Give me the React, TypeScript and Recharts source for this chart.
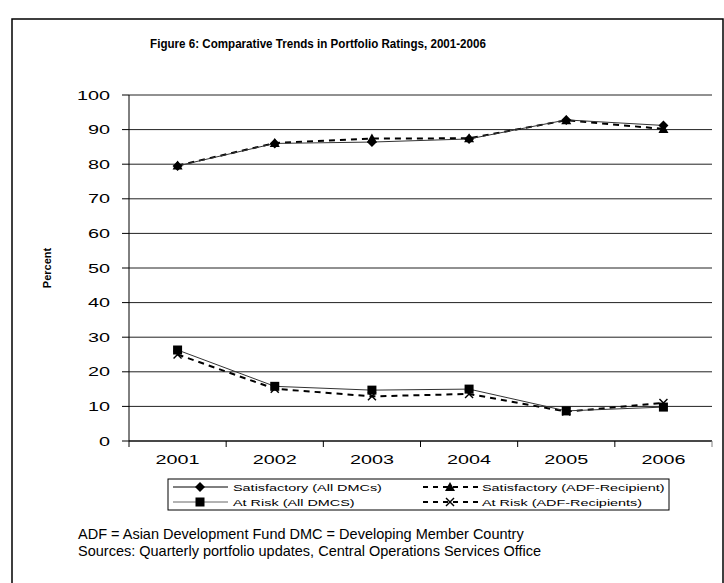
import React from 'react';
import { LineChart, Line, XAxis, YAxis, CartesianGrid } from 'recharts';

const years = ['2001', '2002', '2003', '2004', '2005', '2006'];
const satisfactoryAll = [79.5, 86.0, 86.4, 87.3, 92.8, 91.2];
const satisfactoryADF = [79.6, 86.1, 87.4, 87.5, 92.7, 90.2];
const atRiskAll = [26.3, 15.8, 14.7, 15.0, 8.7, 9.8];
const atRiskADF = [25.0, 15.1, 12.9, 13.6, 8.5, 11.0];
const yTicks = [0, 10, 20, 30, 40, 50, 60, 70, 80, 90, 100];

const seriesNames = {
  satAll: 'Satisfactory (All DMCs)',
  satADF: 'Satisfactory (ADF-Recipient)',
  riskAll: 'At Risk (All DMCS)',
  riskADF: 'At Risk (ADF-Recipients)',
};

const data = years.map((year, i) => ({
  year,
  satAll: satisfactoryAll[i],
  satADF: satisfactoryADF[i],
  riskAll: atRiskAll[i],
  riskADF: atRiskADF[i],
}));

const FONT = '"Liberation Sans", Arial, Helvetica, sans-serif';

const Diamond = ({ cx, cy }: any) => (
  <polygon points={`${cx},${cy - 5} ${cx + 5},${cy} ${cx},${cy + 5} ${cx - 5},${cy}`} fill="#000" />
);
const Triangle = ({ cx, cy }: any) => (
  <polygon points={`${cx},${cy - 5} ${cx + 5},${cy + 4} ${cx - 5},${cy + 4}`} fill="#000" />
);
const Square = ({ cx, cy }: any) => <rect x={cx - 4.5} y={cy - 4.5} width={9} height={9} fill="#000" />;
const Cross = ({ cx, cy }: any) => (
  <g stroke="#000" strokeWidth={1.4}>
    <line x1={cx - 4} y1={cy - 4} x2={cx + 4} y2={cy + 4} />
    <line x1={cx - 4} y1={cy + 4} x2={cx + 4} y2={cy - 4} />
  </g>
);

const mkDot = (Shape: any, k: string) => (p: any) => <Shape key={`${k}-${p.index}`} cx={p.cx} cy={p.cy} />;

const XTick = (props: any) => {
  const { x, y, payload, index, visibleTicksCount, width } = props;
  const half = width / visibleTicksCount / 2;
  return (
    <g>
      <line x1={x - half} y1={y} x2={x - half} y2={y + 6} stroke="#000" />
      {index === visibleTicksCount - 1 && <line x1={x + half} y1={y} x2={x + half} y2={y + 6} stroke="#808080" />}
      <g transform={`translate(${x},${y + 23}) scale(1.57,1)`}>
        <text x={0} y={0} textAnchor="middle" fontSize={12.6} fontFamily={FONT} fill="#000">
          {payload.value}
        </text>
      </g>
    </g>
  );
};

const YTick = (props: any) => {
  const { x, y, payload } = props;
  return (
    <g transform={`translate(${x},${y + 4.5}) scale(1.6,1)`}>
      <text x={0} y={0} textAnchor="end" fontSize={12.4} fontFamily={FONT} fill="#000">
        {payload.value}
      </text>
    </g>
  );
};

const LegendText = ({ x, y, children }: any) => (
  <g transform={`translate(${x},${y + 3.5}) scale(1.55,1)`}>
    <text x={0} y={0} fontSize={9.3} fontFamily={FONT} fill="#000">
      {children}
    </text>
  </g>
);

export default function App() {
  return (
    <div style={{ position: 'absolute', left: 0, top: 0, width: 724, height: 583, background: '#fff' }}>
      <LineChart width={724} height={583} data={data} margin={{ top: 95, right: 12, bottom: 112, left: 0 }}>
        <CartesianGrid horizontal vertical={false} stroke="#222" strokeWidth={1} />
        <XAxis
          dataKey="year"
          scale="band"
          height={30}
          interval={0}
          tickSize={0}
          tickMargin={0}
          tickLine={false}
          axisLine={{ stroke: '#000' }}
          tick={<XTick />}
        />
        <YAxis
          width={129}
          domain={[0, 100]}
          ticks={yTicks}
          interval={0}
          tickSize={7}
          tickMargin={12}
          axisLine={{ stroke: '#000' }}
          tickLine={{ stroke: '#000' }}
          tick={<YTick />}
        />
        <YAxis
          yAxisId="right"
          orientation="right"
          width={0}
          domain={[0, 100]}
          tick={false}
          tickLine={false}
          axisLine={{ stroke: '#808080' }}
        />
        <Line
          dataKey="satADF"
          name={seriesNames.satADF}
          stroke="#000"
          strokeWidth={2}
          strokeDasharray="6 5"
          dot={mkDot(Triangle, 'tri')}
          isAnimationActive={false}
        />
        <Line
          dataKey="satAll"
          name={seriesNames.satAll}
          stroke="#333"
          strokeWidth={1}
          dot={mkDot(Diamond, 'dia')}
          isAnimationActive={false}
        />
        <Line
          dataKey="riskADF"
          name={seriesNames.riskADF}
          stroke="#000"
          strokeWidth={2}
          strokeDasharray="6 5"
          dot={mkDot(Cross, 'x')}
          isAnimationActive={false}
        />
        <Line
          dataKey="riskAll"
          name={seriesNames.riskAll}
          stroke="#333"
          strokeWidth={1}
          dot={mkDot(Square, 'sq')}
          isAnimationActive={false}
        />
      </LineChart>
      <svg width={724} height={583} style={{ position: 'absolute', left: 0, top: 0, pointerEvents: 'none' }}>
        <path d="M12,583 L12,19 L723,19 L723,583" fill="none" stroke="#000" strokeWidth={1.5} />
        <g transform="translate(318,48) scale(0.86,1)">
          <text x={0} y={0} textAnchor="middle" fontSize={13.5} fontWeight="bold" fontFamily={FONT} fill="#000">
            Figure 6: Comparative Trends in Portfolio Ratings, 2001-2006
          </text>
        </g>
        <text
          transform="translate(51,268) rotate(-90)"
          textAnchor="middle"
          fontSize={11}
          fontWeight="bold"
          fontFamily={FONT}
          fill="#000"
        >
          Percent
        </text>
        <rect x={168} y={479} width={501} height={31} fill="none" stroke="#000" strokeWidth={1} />
        <line x1={173} y1={487} x2={228} y2={487} stroke="#000" strokeWidth={1} />
        <Diamond cx={200} cy={487} />
        <LegendText x={233} y={487}>{seriesNames.satAll}</LegendText>
        <line x1={423} y1={487} x2={478} y2={487} stroke="#000" strokeWidth={2} strokeDasharray="5 5" />
        <Triangle cx={450} cy={487} />
        <LegendText x={482} y={487}>{seriesNames.satADF}</LegendText>
        <line x1={173} y1={502} x2={228} y2={502} stroke="#666" strokeWidth={1} />
        <Square cx={200} cy={502} />
        <LegendText x={233} y={502}>{seriesNames.riskAll}</LegendText>
        <line x1={423} y1={502} x2={478} y2={502} stroke="#000" strokeWidth={2} strokeDasharray="5 5" />
        <Cross cx={450} cy={502} />
        <LegendText x={482} y={502}>{seriesNames.riskADF}</LegendText>
        <text x={78} y={539} fontSize={14.5} fontFamily={FONT} fill="#000">
          ADF = Asian Development Fund DMC = Developing Member Country
        </text>
        <text x={78} y={556} fontSize={14.5} fontFamily={FONT} fill="#000">
          Sources: Quarterly portfolio updates, Central Operations Services Office
        </text>
      </svg>
    </div>
  );
}
